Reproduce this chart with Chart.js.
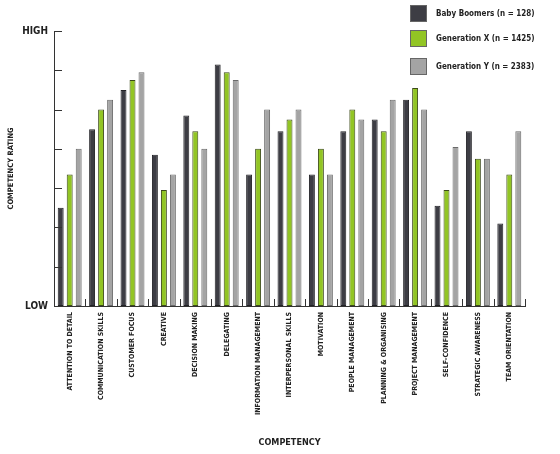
<!DOCTYPE html>
<html>
<head>
<meta charset="utf-8">
<script src="https://cdn.jsdelivr.net/npm/chart.js@4/dist/chart.umd.min.js"></script>
<style>
  html, body { margin: 0; padding: 0; background: #fff; }
  #wrap { position: relative; width: 560px; height: 454px; }
  #legend { position: absolute; left: 410px; top: 5px; font-family: "Liberation Sans Narrow", "DejaVu Sans Condensed", sans-serif; font-weight: bold; font-size: 8px; color: #222; }
  .leg-item { position: absolute; left: 0; white-space: nowrap; }
  .leg-box { position: absolute; left: 0; top: 0; width: 17px; height: 17px; box-sizing: border-box; border: 1px solid #666; }
  .leg-text { position: absolute; left: 26px; top: 4px; }
</style>
</head>
<body>
<div id="wrap">
  <canvas id="chart" width="560" height="454"></canvas>
  <div id="legend"></div>
</div>
<script>
(function () {
  'use strict';

  var categories = [
    'ATTENTION TO DETAIL', 'COMMUNICATION SKILLS', 'CUSTOMER FOCUS', 'CREATIVE',
    'DECISION MAKING', 'DELEGATING', 'INFORMATION MANAGEMENT', 'INTERPERSONAL SKILLS',
    'MOTIVATION', 'PEOPLE MANAGEMENT', 'PLANNING & ORGANISING', 'PROJECT MANAGEMENT',
    'SELF-CONFIDENCE', 'STRATEGIC AWARENESS', 'TEAM ORIENTATION'
  ];
  var seriesNames = ['Baby Boomers (n = 128)', 'Generation X (n = 1425)', 'Generation Y (n = 2383)'];
  var babyBoomers = [2.5, 4.5, 5.5, 3.85, 4.85, 6.15, 3.35, 4.45, 3.35, 4.45, 4.75, 5.25, 2.55, 4.45, 2.1];
  var generationX = [3.35, 5.0, 5.75, 2.95, 4.45, 5.95, 4.0, 4.75, 4.0, 5.0, 4.45, 5.55, 2.95, 3.75, 3.35];
  var generationY = [4.0, 5.25, 5.95, 3.35, 4.0, 5.75, 5.0, 5.0, 3.35, 4.75, 5.25, 5.0, 4.05, 3.75, 4.45];
  var yTickLabels = { 0: 'LOW', 7: 'HIGH' };

  var fills = ['#3d3d44', '#92c524', '#a4a4a4'];
  var borders = ['#222226', '#3c4a1a', '#6a6a6a'];
  var fontFamily = '"Liberation Sans Narrow", "DejaVu Sans Condensed", sans-serif';

  // small ticks pointing into the plot area
  var innerTicks = {
    id: 'innerTicks',
    afterDraw: function (chart) {
      var ctx = chart.ctx;
      var x = chart.scales.x, y = chart.scales.y;
      ctx.save();
      ctx.strokeStyle = '#333';
      ctx.lineWidth = 1;
      ctx.beginPath();
      y.ticks.forEach(function (t) {
        var py = Math.round(y.getPixelForValue(t.value)) + 0.5;
        ctx.moveTo(x.left, py);
        ctx.lineTo(x.left + 8, py);
      });
      for (var i = 0; i < categories.length; i++) {
        var px = Math.round(x.getPixelForValue(i) + (x.getPixelForValue(1) - x.getPixelForValue(0)) / 2) + 0.5;
        ctx.moveTo(px, y.bottom);
        ctx.lineTo(px, y.bottom - 7);
      }
      ctx.stroke();
      ctx.restore();
    }
  };

  var datasets = [babyBoomers, generationX, generationY].map(function (d, i) {
    return {
      label: seriesNames[i],
      data: d,
      backgroundColor: fills[i],
      borderColor: borders[i],
      borderWidth: 1,
      borderSkipped: false,
      categoryPercentage: 0.86,
      barPercentage: 0.66
    };
  });

  new Chart(document.getElementById('chart'), {
    type: 'bar',
    data: { labels: categories, datasets: datasets },
    options: {
      responsive: false,
      animation: false,
      layout: { padding: { top: 31, right: 35, left: 0, bottom: 0 } },
      plugins: { legend: { display: false }, tooltip: { enabled: false } },
      scales: {
        x: {
          grid: { display: false, drawTicks: false },
          border: { display: true, color: '#333', width: 1 },
          ticks: {
            color: '#222',
            font: { family: fontFamily, size: 7, weight: 'bold' },
            minRotation: 90,
            maxRotation: 90,
            autoSkip: false,
            padding: 6
          },
          title: {
            display: true,
            text: 'COMPETENCY',
            color: '#222',
            font: { family: fontFamily, size: 9, weight: 'bold' },
            padding: { top: 0, bottom: 6 }
          },
          afterFit: function (s) { s.height = 148; }
        },
        y: {
          min: 0,
          max: 7,
          grid: { display: false, drawTicks: false },
          border: { display: true, color: '#333', width: 1 },
          ticks: {
            stepSize: 1,
            color: '#222',
            padding: 6,
            font: { family: fontFamily, size: 10, weight: 'bold' },
            callback: function (v) { return yTickLabels[v] || ''; }
          },
          title: {
            display: true,
            text: 'COMPETENCY RATING',
            color: '#222',
            font: { family: fontFamily, size: 7.5, weight: 'bold' },
            padding: { top: 7, bottom: 0 }
          },
          afterFit: function (s) { s.width = 54; }
        }
      }
    },
    plugins: [innerTicks]
  });

  // legend
  var legendEl = document.getElementById('legend');
  var tops = [0, 25, 53];
  var html = '';
  for (var i = 0; i < seriesNames.length; i++) {
    html += '<div class="leg-item" style="top:' + tops[i] + 'px">'
      + '<span class="leg-box" style="background:' + fills[i] + '"></span>'
      + '<span class="leg-text">' + seriesNames[i] + '</span>'
      + '</div>';
  }
  legendEl.innerHTML = html;
})();
</script>
</body>
</html>
